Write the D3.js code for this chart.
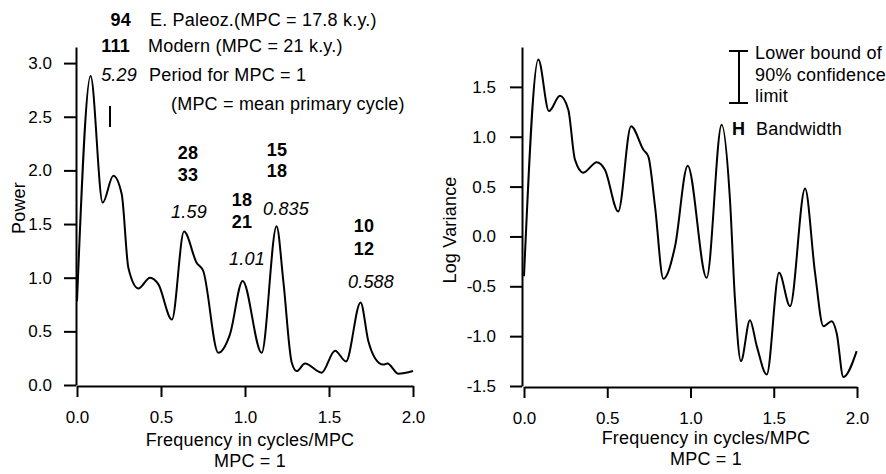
<!DOCTYPE html>
<html>
<head>
<meta charset="utf-8">
<script src="https://cdn.jsdelivr.net/npm/d3@7"></script>
<style>
  html, body { margin: 0; padding: 0; background: #fff; }
  svg { display: block; font-family: "Liberation Sans", Arial, Helvetica, sans-serif; }
  .axis path, .axis line { stroke: #000; stroke-width: 2; }
  .axis text { fill: #000; font-size: 17px; }
  .lbl { font-size: 18px; letter-spacing: 0.2px; }
</style>
</head>
<body>
<svg id="chart" width="886" height="474"></svg>
<script>
// ---------------- data ----------------
const xTicks = [0, 0.5, 1.0, 1.5, 2.0];
const powerTicks = [0, 0.5, 1.0, 1.5, 2.0, 2.5, 3.0];
const logTicks = [-1.5, -1.0, -0.5, 0.0, 0.5, 1.0, 1.5];

const powerFreq = [0, 0.081, 0.153, 0.216, 0.266, 0.306, 0.365, 0.435, 0.484, 0.565, 0.637, 0.712, 0.752, 0.841, 0.91, 0.986, 1.099, 1.188, 1.228, 1.278, 1.308, 1.357, 1.456, 1.536, 1.601, 1.688, 1.734, 1.774, 1.823, 1.848, 1.913, 2.0];
const powerVals = [0.78, 2.88, 1.70, 1.95, 1.78, 1.09, 0.90, 1.00, 0.94, 0.61, 1.43, 1.14, 1.06, 0.30, 0.47, 0.97, 0.30, 1.48, 0.97, 0.21, 0.13, 0.20, 0.115, 0.32, 0.22, 0.77, 0.41, 0.25, 0.19, 0.20, 0.105, 0.13];

const logFreq = [0, 0.086, 0.15, 0.216, 0.266, 0.306, 0.356, 0.437, 0.486, 0.566, 0.643, 0.717, 0.747, 0.787, 0.837, 0.907, 0.983, 1.097, 1.187, 1.237, 1.267, 1.303, 1.357, 1.398, 1.458, 1.532, 1.598, 1.688, 1.748, 1.798, 1.848, 1.878, 1.918, 1.998];
const logVals = [-0.40, 1.775, 1.257, 1.41, 1.27, 0.77, 0.64, 0.745, 0.67, 0.25, 1.106, 0.87, 0.80, 0.30, -0.425, -0.10, 0.71, -0.415, 1.12, 0.37, -0.63, -1.25, -0.84, -1.10, -1.385, -0.365, -0.70, 0.48, -0.365, -0.90, -0.85, -0.97, -1.41, -1.15];

const keyNumbers = ["94", "111", "5.29"];
const keyTexts = ["E. Paleoz.(MPC = 17.8 k.y.)", "Modern (MPC = 21 k.y.)", "Period for MPC = 1"];
const keyNote = "(MPC = mean primary cycle)";

const peakTop = ["28", "15", "18", "10"];
const peakMid = ["33", "18", "21", "12"];
const peakPeriod = ["1.59", "0.835", "1.01", "0.588"];

const xTitle = "Frequency in cycles/MPC";
const xSub = "MPC = 1";
const leftYTitle = "Power";
const rightYTitle = "Log Variance";
const legendLines = ["Lower bound of", "90% confidence", "limit"];
const bandLabel = "Bandwidth";

// ---------------- layout ----------------
const svg = d3.select("#chart");
const fmt = d => d.toFixed(1);

// Left panel
const xL = d3.scaleLinear().domain([0, 2]).range([77, 413]);
const yL = d3.scaleLinear().domain([0, 3.15]).range([385, 47]);
// Right panel
const xR = d3.scaleLinear().domain([0, 2]).range([524, 857]);
const yR = d3.scaleLinear().domain([-1.5, 1.9]).range([386, 47]);

function drawAxes(x, y, xAxisY, yAxisX, yTicks, pad) {
  svg.append("g").attr("class", "axis")
    .attr("transform", `translate(0,${xAxisY})`)
    .call(d3.axisBottom(x).tickValues(xTicks).tickFormat(fmt).tickSize(11).tickPadding(14).tickSizeOuter(0));
  svg.append("g").attr("class", "axis")
    .attr("transform", `translate(${yAxisX},0)`)
    .call(d3.axisLeft(y).tickValues(yTicks).tickFormat(fmt).tickSize(12).tickPadding(pad).tickSizeOuter(0));
}

drawAxes(xL, yL, 386, 76, powerTicks, 12);
drawAxes(xR, yR, 387, 522, logTicks, 14);

const line = (x, y) => d3.line().x(d => x(d[0])).y(d => y(d[1])).curve(d3.curveMonotoneX);

svg.append("path")
  .datum(powerFreq.map((f, i) => [f, powerVals[i]]))
  .attr("d", line(xL, yL))
  .attr("fill", "none").attr("stroke", "#000").attr("stroke-width", 2).attr("stroke-linejoin", "round");

svg.append("path")
  .datum(logFreq.map((f, i) => [f, logVals[i]]))
  .attr("d", line(xR, yR))
  .attr("fill", "none").attr("stroke", "#000").attr("stroke-width", 2).attr("stroke-linejoin", "round");

// Axis titles
function titles(cx, b1, b2) {
  svg.append("text").attr("class", "lbl").attr("x", cx).attr("y", b1).attr("text-anchor", "middle").text(xTitle);
  svg.append("text").attr("class", "lbl").attr("x", cx).attr("y", b2).attr("text-anchor", "middle").text(xSub);
}
titles(250, 446, 467);
titles(706, 444, 465);

svg.append("text").attr("class", "lbl").attr("transform", "translate(25,208) rotate(-90)")
  .attr("text-anchor", "middle").text(leftYTitle);
svg.append("text").attr("class", "lbl").attr("transform", "translate(456,230) rotate(-90)")
  .attr("text-anchor", "middle").text(rightYTitle);

// Key (left panel)
const keyBase = [26, 52, 81];
const keyRight = [131, 130, 137];
const keyTextX = [150, 148, 149];
keyNumbers.forEach((n, i) => {
  svg.append("text").attr("class", "lbl").attr("x", keyRight[i]).attr("y", keyBase[i]).attr("text-anchor", "end")
    .attr("font-weight", i < 2 ? "bold" : "normal")
    .attr("font-style", i === 2 ? "italic" : "normal")
    .text(n);
  svg.append("text").attr("class", "lbl").attr("x", keyTextX[i]).attr("y", keyBase[i]).text(keyTexts[i]);
});
svg.append("text").attr("class", "lbl").attr("x", 171).attr("y", 110).text(keyNote);

// small vertical confidence bar in left panel
svg.append("line").attr("x1", 110).attr("x2", 110).attr("y1", 106).attr("y2", 127)
  .attr("stroke", "#000").attr("stroke-width", 2);

// Peak labels
const peakCX = [188, 277, 242, 364];
const periodCX = [189, 286, 247, 371];
const topB = [159, 156, 206, 232];
const midB = [181, 177, 228, 255];
const perB = [218, 215, 265, 288];
peakTop.forEach((t, i) => {
  svg.append("text").attr("class", "lbl").attr("x", peakCX[i]).attr("y", topB[i]).attr("text-anchor", "middle")
    .attr("font-weight", "bold").text(t);
  svg.append("text").attr("class", "lbl").attr("x", peakCX[i]).attr("y", midB[i]).attr("text-anchor", "middle")
    .attr("font-weight", "bold").text(peakMid[i]);
  svg.append("text").attr("class", "lbl").attr("x", periodCX[i]).attr("y", perB[i]).attr("text-anchor", "middle")
    .attr("font-style", "italic").text(peakPeriod[i]);
});

// Right legend: error bar
const eb = svg.append("g").attr("stroke", "#000").attr("stroke-width", 2);
eb.append("line").attr("x1", 739).attr("x2", 739).attr("y1", 51).attr("y2", 103);
eb.append("line").attr("x1", 729).attr("x2", 748).attr("y1", 51).attr("y2", 51);
eb.append("line").attr("x1", 729).attr("x2", 748).attr("y1", 103).attr("y2", 103);
const legB = [59, 81, 102];
legendLines.forEach((t, i) => {
  svg.append("text").attr("class", "lbl").attr("x", 755).attr("y", legB[i]).text(t);
});
svg.append("text").attr("x", 732).attr("y", 135).attr("font-size", 18).attr("font-weight", "bold").text("H");
svg.append("text").attr("class", "lbl").attr("x", 756).attr("y", 135).text(bandLabel);
</script>
</body>
</html>
